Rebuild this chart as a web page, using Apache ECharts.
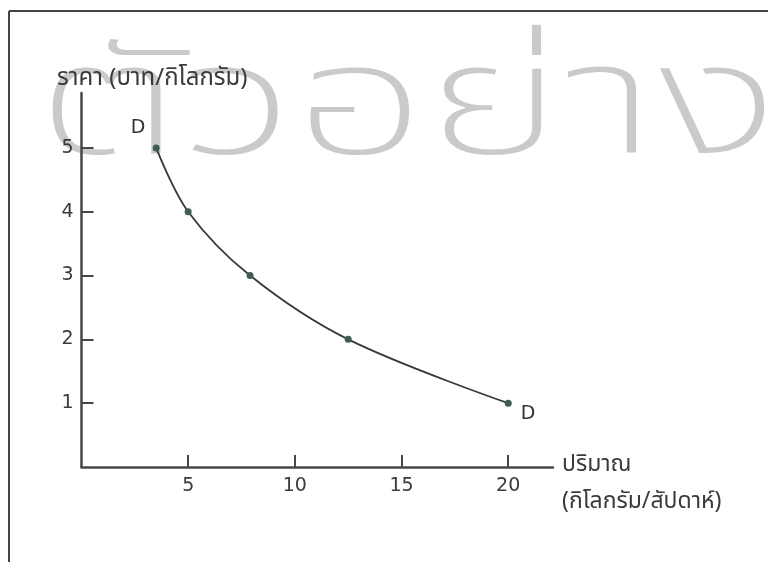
<!DOCTYPE html>
<html>
<head>
<meta charset="utf-8">
<script src="https://cdn.jsdelivr.net/npm/echarts@6/dist/echarts.min.js"></script>
<style>html,body{margin:0;padding:0;background:#fff}#c{width:768px;height:562px}</style>
</head>
<body>
<div id="c"></div>
<script>
// Data
var quantity = [3.5, 5, 7.9, 12.5, 20];
var price = [5, 4, 3, 2, 1];
var xTicks = [5, 10, 15, 20];
var yTicks = [1, 2, 3, 4, 5];
var curveLabel = 'D';
var yAxisTitle = 'ราคา (บาท/กิโลกรัม)';
var xAxisTitle1 = 'ปริมาณ';
var xAxisTitle2 = '(กิโลกรัม/สัปดาห์)';
var watermark = 'ตัวอย่าง';

var points = quantity.map(function (q, i) { return [q, price[i]]; });
var lastIdx = points.length - 1;
var seriesData = points.map(function (p, i) {
  var d = { value: p };
  if (i === 0) {
    d.label = { show: true, formatter: curveLabel, position: 'top', offset: [-18, -2] };
  } else if (i === lastIdx) {
    d.label = { show: true, formatter: curveLabel, position: 'right', offset: [4, 11] };
  }
  return d;
});

var axisColor = '#474747';
var font = "'DejaVu Sans', 'Liberation Sans', sans-serif";
var thaiFont = "'Noto Sans Thai', 'Noto Sans Thai Looped', 'Noto Sans', sans-serif";

var chart = echarts.init(document.getElementById('c'), null, { renderer: 'canvas' });
chart.setOption({
  animation: false,
  backgroundColor: '#ffffff',
  grid: { left: 81.5, right: 215, top: 93, bottom: 95, containLabel: false },
  xAxis: {
    type: 'value', min: 0, max: 22.1,
    splitLine: { show: false },
    axisLine: { lineStyle: { color: axisColor, width: 2.5 } },
    axisTick: { inside: true, length: 12, lineStyle: { color: axisColor, width: 2 }, customValues: xTicks },
    axisLabel: { color: '#3a3a3a', fontSize: 19, fontFamily: font, margin: 10, customValues: xTicks }
  },
  yAxis: {
    type: 'value', min: 0, max: 5.86,
    splitLine: { show: false },
    axisLine: { lineStyle: { color: axisColor, width: 2.5 } },
    axisTick: { inside: true, length: 12, lineStyle: { color: axisColor, width: 2 }, customValues: yTicks },
    axisLabel: { color: '#3a3a3a', fontSize: 19, fontFamily: font, margin: 8, customValues: yTicks }
  },
  graphic: [
    { type: 'text', z: -1, x: 36, y: 44, scaleX: 1.5, scaleY: 1,
      style: { text: watermark, font: '200 155px ' + thaiFont, fill: 'rgba(170,170,170,0.62)', verticalAlign: 'top' } },
    { type: 'line', z: 0, shape: { x1: 9, y1: 11, x2: 768, y2: 11 }, style: { stroke: '#444', lineWidth: 2 } },
    { type: 'line', z: 0, shape: { x1: 9, y1: 11, x2: 9, y2: 562 }, style: { stroke: '#444', lineWidth: 2 } },
    { type: 'text', z: 10, x: 57, y: 80, style: { text: yAxisTitle, font: '24px ' + thaiFont, fill: '#3a3a3a', verticalAlign: 'middle' } },
    { type: 'text', z: 10, x: 562, y: 466, style: { text: xAxisTitle1, font: '23px ' + thaiFont, fill: '#3a3a3a', verticalAlign: 'middle' } },
    { type: 'text', z: 10, x: 562, y: 503, style: { text: xAxisTitle2, font: '23px ' + thaiFont, fill: '#3a3a3a', verticalAlign: 'middle' } }
  ],
  series: [{
    type: 'line',
    data: seriesData,
    smooth: 0.35,
    symbol: 'circle',
    symbolSize: 7,
    itemStyle: { color: '#3f5c57' },
    lineStyle: { color: '#333b3a', width: 1.8 },
    label: { color: '#333', fontSize: 19, fontFamily: font }
  }]
});
</script>
</body>
</html>
